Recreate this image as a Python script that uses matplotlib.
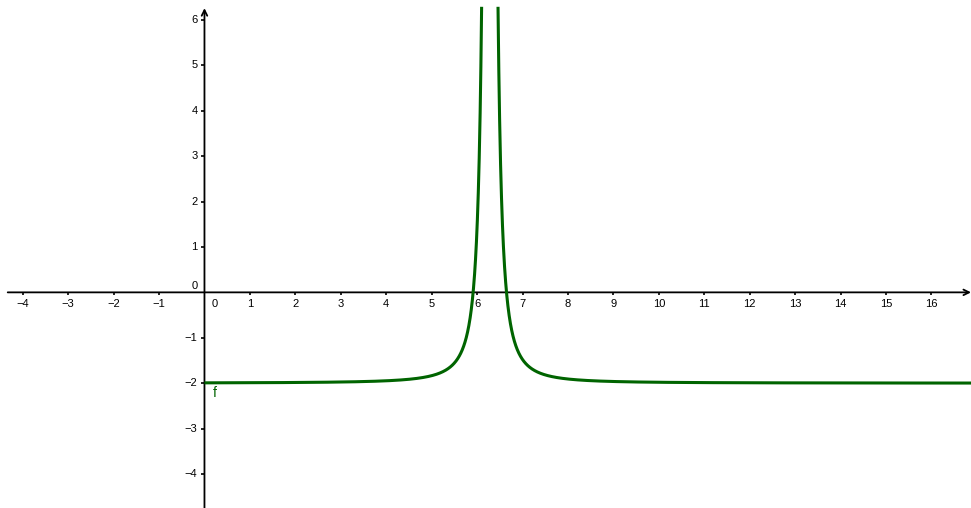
import numpy as np
import matplotlib
matplotlib.use("Agg")
import matplotlib.pyplot as plt

# ---- data ----
x_ticks = list(range(-4, 17))
y_ticks = [-4, -3, -2, -1, 1, 2, 3, 4, 5, 6]
pole_x = 6.28          # vertical asymptote
coef = 0.27            # strength of the spike
h_asym = -2.0          # horizontal asymptote
x_start = 0.0          # graph begins at the y-axis
y_top = 6.29           # curve visible up to here
func_label = "f"

# ---- view window ----
x_min, x_max = -4.50, 16.87
y_min, y_max = -4.75, 6.44

plt.rcParams['font.family'] = ['Liberation Sans', 'DejaVu Sans']
fig = plt.figure(figsize=(9.71, 5.08), dpi=100)
ax = fig.add_axes([0, 0, 1, 1])
ax.set_xlim(x_min, x_max)
ax.set_ylim(y_min, y_max)
ax.axis('off')

def f(x):
    return coef / (x - pole_x) ** 2 + h_asym

dx = np.sqrt(coef / (y_top - h_asym))
xl = np.linspace(x_start, pole_x - dx, 1500)
xr = np.linspace(pole_x + dx, x_max + 0.1, 3000)
green = '#006400'
ax.plot(xl, f(xl), color=green, lw=2.2, solid_capstyle='butt', zorder=3)
ax.plot(xr, f(xr), color=green, lw=2.2, solid_capstyle='butt', zorder=3)

# axes with arrows
ax.annotate('', xy=(x_max, 0), xytext=(-4.33, 0),
            arrowprops=dict(arrowstyle='->', lw=1.3, color='black',
                            mutation_scale=10, shrinkA=0, shrinkB=0), zorder=2)
ax.annotate('', xy=(0, 6.26), xytext=(0, y_min),
            arrowprops=dict(arrowstyle='->', lw=1.3, color='black',
                            mutation_scale=10, shrinkA=0, shrinkB=0), zorder=2)

# tick marks
xt = [t for t in x_ticks if t != 0]
ax.plot(xt, [0] * len(xt), linestyle='none', marker=3, markersize=2.5,
        color='black', mew=1.2)
ax.plot([0] * len(y_ticks), y_ticks, linestyle='none', marker=0, markersize=2.5,
        color='black', mew=1.2)

fs = 8
for t in xt:
    ax.annotate(str(t).replace('-', '\u2212'), xy=(t, 0), xytext=(0, -5),
                textcoords='offset points', ha='center', va='top', fontsize=fs)
for t in y_ticks:
    ax.annotate(str(t).replace('-', '\u2212'), xy=(0, t), xytext=(-5, 0),
                textcoords='offset points', ha='right', va='center', fontsize=fs)
# origin labels
ax.annotate('0', xy=(0, 0), xytext=(5, -5), textcoords='offset points',
            ha='left', va='top', fontsize=fs)
ax.annotate('0', xy=(0, 0), xytext=(-5, 2.2), textcoords='offset points',
            ha='right', va='baseline', fontsize=fs)

ax.text(0.18, -2.22, func_label, color=green, fontsize=10, ha='left', va='center')

fig.savefig('out.png', dpi=100, facecolor='white')
